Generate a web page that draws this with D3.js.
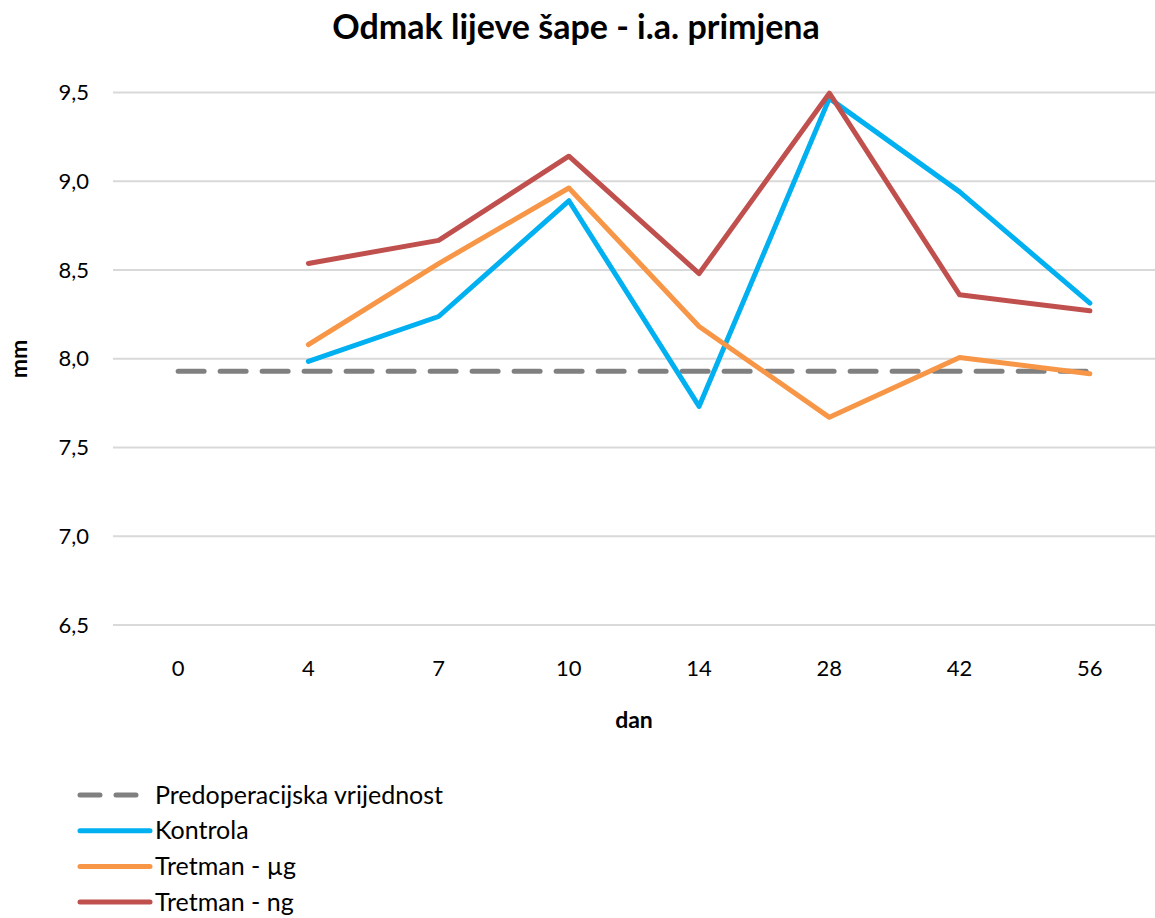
<!DOCTYPE html>
<html>
<head>
<meta charset="utf-8">
<script src="https://cdn.jsdelivr.net/npm/d3@7"></script>
<style>
  body { margin: 0; background: #fff; }
  svg { font-family: Lato, "Open Sans", sans-serif; }
</style>
</head>
<body>
<svg id="chart" width="1155" height="918"></svg>
<script>
// Data
const days = ["0", "4", "7", "10", "14", "28", "42", "56"];
const preop = [7.93, 7.93, 7.93, 7.93, 7.93, 7.93, 7.93, 7.93];
const kontrola = [null, 7.985, 8.238, 8.89, 7.732, 9.467, 8.94, 8.313];
const tretmanUg = [null, 8.079, 8.536, 8.962, 8.182, 7.67, 8.007, 7.916];
const tretmanNg = [null, 8.537, 8.667, 9.141, 8.48, 9.496, 8.36, 8.27];
const yTicks = [6.5, 7.0, 7.5, 8.0, 8.5, 9.0, 9.5];

const series = [
  { name: "Predoperacijska vrijednost", values: preop, color: "#808080", dashed: true },
  { name: "Kontrola", values: kontrola, color: "#00B0F0" },
  { name: "Tretman - µg", values: tretmanUg, color: "#F79646" },
  { name: "Tretman - ng", values: tretmanNg, color: "#C0504D" }
];

const svg = d3.select("#chart");

// Scales
const x = d3.scalePoint().domain(days).range([113, 1155]).padding(0.5);
const y = d3.scaleLinear().domain([6.5, 9.5]).range([625, 92.5]);

// Gridlines
svg.append("g")
  .selectAll("line")
  .data(yTicks)
  .join("line")
  .attr("x1", 113)
  .attr("x2", 1155)
  .attr("y1", d => y(d))
  .attr("y2", d => y(d))
  .attr("stroke", "#d9d9d9")
  .attr("stroke-width", 2);

// Y axis labels
svg.append("g")
  .selectAll("text")
  .data(yTicks)
  .join("text")
  .attr("x", 89)
  .attr("y", d => y(d))
  .attr("dy", "0.35em")
  .attr("text-anchor", "end")
  .attr("font-size", 22)
  .attr("fill", "#000")
  .text(d => d3.format(".1f")(d).replace(".", ","));

// X axis labels
svg.append("g")
  .selectAll("text")
  .data(days)
  .join("text")
  .attr("x", d => x(d))
  .attr("y", 668)
  .attr("dy", "0.35em")
  .attr("text-anchor", "middle")
  .attr("font-size", 22)
  .attr("fill", "#000")
  .text(d => d);

// Lines
const line = d3.line()
  .defined(d => d.v != null)
  .x(d => x(d.day))
  .y(d => y(d.v));

series.forEach(s => {
  svg.append("path")
    .datum(days.map((day, i) => ({ day: day, v: s.values[i] })))
    .attr("d", line)
    .attr("fill", "none")
    .attr("stroke", s.color)
    .attr("stroke-width", 5)
    .attr("stroke-linecap", "round")
    .attr("stroke-linejoin", "round")
    .attr("stroke-dasharray", s.dashed ? "26,16" : null);
});

// Titles
svg.append("text")
  .attr("x", 576)
  .attr("y", 27)
  .attr("dy", "0.35em")
  .attr("text-anchor", "middle")
  .attr("font-size", 34)
  .attr("font-weight", "bold")
  .text("Odmak lijeve šape - i.a. primjena");

svg.append("text")
  .attr("x", 634)
  .attr("y", 720)
  .attr("dy", "0.35em")
  .attr("text-anchor", "middle")
  .attr("font-size", 23)
  .attr("font-weight", "bold")
  .text("dan");

svg.append("text")
  .attr("transform", "translate(19,359) rotate(-90)")
  .attr("dy", "0.35em")
  .attr("text-anchor", "middle")
  .attr("font-size", 23)
  .attr("font-weight", "bold")
  .text("mm");

// Legend
const legend = svg.append("g")
  .selectAll("g")
  .data(series)
  .join("g")
  .attr("transform", (d, i) => `translate(0,${795 + i * 35.7})`);

legend.append("line")
  .attr("x1", 80)
  .attr("x2", d => d.dashed ? 140 : 150)
  .attr("stroke", d => d.color)
  .attr("stroke-width", 5)
  .attr("stroke-linecap", "round")
  .attr("stroke-dasharray", d => d.dashed ? "20,16" : null);

legend.append("text")
  .attr("x", 155)
  .attr("dy", "0.35em")
  .attr("font-size", 25)
  .attr("fill", "#000")
  .text(d => d.name);
</script>
</body>
</html>
